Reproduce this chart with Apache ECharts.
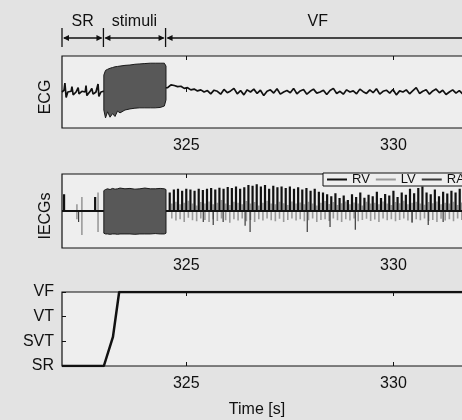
<!DOCTYPE html>
<html>
<head>
<meta charset="utf-8">
<script src="https://cdn.jsdelivr.net/npm/echarts@6/dist/echarts.min.js"></script>
<style>
html,body{margin:0;padding:0;background:#e3e3e3;}
#main{width:462px;height:420px;}
</style>
</head>
<body>
<div id="main"></div>
<script>
/*刻度与标签*/
var xTicks=[325,330];
var rhythmLabels=['SR','SVT','VT','VF'];
var phaseNames=['SR','stimuli','VF'];
var phaseBounds=[322,323,324.5,331.85];

/*ECG: 窦性段*/
var ecgSrTime=[322.00,322.05,322.07,322.10,322.14,322.22,322.24,322.27,322.34,322.39,322.41,322.48,322.56,322.58,322.60,322.68,322.72,322.75,322.82,322.87,322.89,322.94,323.00];
var ecgSrValue=[0.0,0.05,0.25,-0.15,0.0,0.02,0.15,-0.08,0.0,0.12,-0.05,0.02,0.0,0.18,-0.1,0.02,0.1,-0.06,0.0,0.22,-0.12,0.0,0.02];
/*ECG: 室颤段 (等间隔采样)*/
var ecgVfStart=324.55, ecgVfStep=0.08;
var ecgVfValue=[
	0.12,0.2,0.18,0.15,0.16,0.1,0.12,0.06,0.08,0.03,
	0.06,0.0,0.04,-0.05,0.05,0.02,-0.06,0.07,-0.02,0.03,
	0.1,-0.05,0.04,-0.08,0.06,0.0,0.08,-0.04,0.05,-0.1,
	0.02,0.06,-0.03,0.09,-0.06,0.0,0.04,-0.02,0.1,-0.05,
	0.03,0.07,-0.06,0.02,0.08,-0.03,0.0,0.05,-0.07,0.04,
	0.1,-0.04,0.02,-0.06,0.06,0.0,0.03,-0.05,0.08,0.01,
	-0.04,0.06,-0.02,0.09,-0.06,0.02,0.05,-0.03,0.07,-0.08,
	0.03,0.0,0.06,-0.05,0.04,0.12,-0.04,0.02,0.06,-0.06,
	0.03,0.08,-0.02,0.05,-0.07,0.0,0.06,-0.03,0.04,-0.05,
	0.07,0.01,-0.04,0.05,-0.02,0.06,-0.06,0.03,0.0,0.04];

/*刺激段包络*/
var stimTime=[323.01,323.05,323.10,323.16,323.22,323.28,323.34,323.40,323.52,323.64,323.76,323.88,324.00,324.13,324.25,324.37,324.47,324.51];
var ecgStimTop=[0.47,0.6,0.63,0.66,0.68,0.7,0.71,0.72,0.74,0.75,0.77,0.78,0.79,0.8,0.8,0.8,0.8,0.72];
var ecgStimBottom=[-0.5,-0.72,-0.55,-0.7,-0.6,-0.68,-0.53,-0.58,-0.5,-0.47,-0.45,-0.44,-0.44,-0.44,-0.44,-0.43,-0.39,-0.22];
var iecgStimTop=[0.55,0.58,0.6,0.58,0.61,0.59,0.6,0.62,0.6,0.61,0.59,0.6,0.62,0.6,0.6,0.61,0.6,0.58];
var iecgStimBottom=[-0.6,-0.62,-0.62,-0.63,-0.62,-0.62,-0.63,-0.62,-0.62,-0.62,-0.63,-0.62,-0.62,-0.62,-0.61,-0.62,-0.62,-0.6];

/*IECG: 窦性段尖峰*/
var rvSrTime=[322.05,322.80];
var rvSrPeak=[0.45,0.38];
var lvSrTime=[322.36,322.48,322.87];
var lvSrUp=[0.18,0.38,0.5];
var lvSrDown=[-0.22,-0.65,-0.57];
/*IECG: 室颤段尖峰*/
var iecgVfStart=324.6, iecgVfStep=0.1;
var rvPeak=[
	0.5,0.58,0.6,0.55,0.6,0.58,0.55,0.6,0.57,
	0.6,0.62,0.58,0.63,0.6,0.65,0.62,0.66,0.6,0.64,
	0.7,0.68,0.72,0.66,0.7,0.6,0.68,0.64,0.66,
	0.62,0.66,0.6,0.64,0.58,0.62,0.55,0.6,0.52,0.5,
	0.45,0.4,0.48,0.35,0.42,0.3,0.45,0.38,0.5,0.36,0.44,
	0.4,0.52,0.35,0.46,0.42,0.55,0.38,0.5,0.44,0.6,
	0.48,0.62,0.66,0.5,0.45,0.58,0.4,0.52,0.47,0.55,
	0.5,0.6,0.45,0.52,0.48,0.55,0.5,0.46,0.52,0.5];
var lvUp=[
	0.2,0.25,0.18,0.22,0.28,0.2,0.15,0.24,0.2,0.26,
	0.18,0.22,0.3,0.2,0.16,0.25,0.22,0.18,0.27,0.2,
	0.24,0.15,0.22,0.28,0.2,0.18,0.25,0.21,0.16,0.26,
	0.2,0.23,0.18,0.25,0.2,0.15,0.22,0.27,0.19,0.24,
	0.16,0.21,0.26,0.18,0.23,0.2,0.15,0.25,0.2,0.22,
	0.18,0.26,0.2,0.16,0.24,0.21,0.28,0.18,0.22,0.25,
	0.2,0.17,0.24,0.21,0.26,0.18,0.22,0.2,0.25,0.16,
	0.23,0.2,0.27,0.18,0.22,0.24,0.19,0.21,0.2];
var lvDown=[
	-0.2,-0.26,-0.22,-0.3,-0.18,-0.25,-0.28,-0.2,-0.24,-0.3,
	-0.22,-0.27,-0.2,-0.25,-0.32,-0.22,-0.26,-0.2,-0.28,-0.24,
	-0.3,-0.22,-0.26,-0.2,-0.25,-0.28,-0.21,-0.3,-0.24,-0.2,
	-0.26,-0.22,-0.28,-0.25,-0.2,-0.3,-0.24,-0.22,-0.27,-0.2,
	-0.25,-0.3,-0.22,-0.26,-0.2,-0.28,-0.24,-0.21,-0.27,-0.23,
	-0.3,-0.2,-0.25,-0.22,-0.28,-0.24,-0.2,-0.26,-0.3,-0.22,
	-0.25,-0.2,-0.27,-0.24,-0.3,-0.21,-0.26,-0.22,-0.28,-0.2,
	-0.24,-0.27,-0.22,-0.25,-0.2,-0.28,-0.23,-0.26,-0.22];
var raTime=[322.40,325.41,325.65,325.89,326.42,326.54,327.92,328.47,329.08,330.45,330.84,331.20];
var raValue=[-0.3,-0.3,-0.38,-0.3,-0.4,-0.57,-0.57,-0.43,-0.51,-0.32,-0.38,-0.3];

/*节律状态*/
var rhythmTime=[322,323.01,323.23,323.38,332.5];
var rhythmLevel=[0,0,1.18,3,3];

var FONT='"Liberation Sans", Arial, sans-serif';
var INK='#111';

function seqTimes(start,step,n){
	var t=[];
	for(var i=0;i<n;i++){t.push(+(start+i*step).toFixed(3));}
	return t;
}
function pairs(times,values){
	var d=[];
	for(var i=0;i<times.length;i++){d.push([times[i],values[i]]);}
	return d;
}
/*单向尖峰*/
function spikes(times,peaks){
	var d=[];
	for(var i=0;i<times.length;i++){d.push([times[i],0],[times[i],peaks[i]],[times[i],0]);}
	return d;
}
/*双向尖峰*/
function biSpikes(times,ups,downs){
	var d=[];
	for(var i=0;i<times.length;i++){d.push([times[i],0],[times[i],ups[i]],[times[i],downs[i]],[times[i],0]);}
	return d;
}

var ecgData=pairs(ecgSrTime,ecgSrValue).concat(pairs(seqTimes(ecgVfStart,ecgVfStep,ecgVfValue.length),ecgVfValue));
var vfT=seqTimes(iecgVfStart,iecgVfStep,rvPeak.length);
var lvT=seqTimes(iecgVfStart+0.05,iecgVfStep,lvUp.length);
var rvData=[[322,0]].concat(spikes(rvSrTime,rvSrPeak),spikes(vfT,rvPeak),[[332.5,0]]);
var lvData=[[322,0]].concat(biSpikes(lvSrTime,lvSrUp,lvSrDown),biSpikes(lvT,lvUp,lvDown),[[332.5,0]]);
var raData=[[322,0]].concat(spikes(raTime,raValue),[[332.5,0]]);

var grids=[
	{left:62,top:56,width:435,height:72},
	{left:62,top:174,width:435,height:74},
	{left:62,top:292,width:435,height:74}
];
for(var g=0;g<grids.length;g++){
	grids[g].show=true;
	grids[g].outerBoundsMode='none';
	grids[g].containLabel=false;
	grids[g].borderColor=INK;
	grids[g].borderWidth=1.2;
	grids[g].backgroundColor='#eeeeee';
}

var xAxes=[],yAxes=[];
for(var k=0;k<3;k++){
	xAxes.push({type:'value',gridIndex:k,min:322,max:332.5,position:'bottom',
		axisLine:{show:false},splitLine:{show:false},
		axisTick:{inside:true,length:4,customValues:xTicks,lineStyle:{color:INK}},
		axisLabel:{customValues:xTicks,margin:10,fontSize:16,fontFamily:FONT,color:INK}});
	xAxes.push({type:'value',gridIndex:k,min:322,max:332.5,position:'top',
		axisLine:{show:false},splitLine:{show:false},
		axisTick:{inside:true,length:4,customValues:xTicks,lineStyle:{color:INK}},
		axisLabel:{show:false}});
}
yAxes.push({type:'value',gridIndex:0,min:-1,max:1,show:false});
yAxes.push({type:'value',gridIndex:1,min:-1,max:1,show:false});
yAxes.push({type:'value',gridIndex:2,min:0,max:3,interval:1,
	axisLine:{show:false},splitLine:{show:false},
	axisTick:{inside:true,length:4,lineStyle:{color:INK}},
	axisLabel:{margin:8,fontSize:16,fontFamily:FONT,color:INK,formatter:function(v){return rhythmLabels[v];}}});

/*刺激段色块*/
function blockSeries(idx,top,bottom){
	return {
		type:'custom',xAxisIndex:idx*2,yAxisIndex:idx,data:[[323.5,0]],silent:true,z:4,
		renderItem:function(params,api){
			var pts=[];
			for(var i=0;i<stimTime.length;i++){pts.push(api.coord([stimTime[i],top[i]]));}
			for(var j=stimTime.length-1;j>=0;j--){pts.push(api.coord([stimTime[j],bottom[j]]));}
			return {type:'polygon',shape:{points:pts},style:{fill:'#585858',stroke:'#1a1a1a',lineWidth:1}};
		}
	};
}
function lineSeries(name,idx,data,color,width,z){
	return {name:name,type:'line',xAxisIndex:idx*2,yAxisIndex:idx,data:data,
		showSymbol:false,symbol:'none',z:z,lineStyle:{color:color,width:width},itemStyle:{color:color}};
}

var chart=echarts.init(document.getElementById('main'));
chart.setOption({
	animation:false,
	backgroundColor:'#e3e3e3',
	grid:grids,
	xAxis:xAxes,
	yAxis:yAxes,
	legend:{data:['RV','LV','RA'],left:323,top:173,width:200,icon:'rect',itemWidth:20,itemHeight:2,itemGap:6,
		padding:[0,4],borderColor:INK,borderWidth:1,backgroundColor:'#eeeeee',
		textStyle:{fontSize:13,fontFamily:FONT,color:INK}},
	series:[
		lineSeries('ECG',0,ecgData,INK,1.7,2),
		blockSeries(0,ecgStimTop,ecgStimBottom),
		lineSeries('LV',1,lvData,'#9a9a9a',1.6,2),
		lineSeries('RA',1,raData,'#3a3a3a',1.2,3),
		lineSeries('RV',1,rvData,INK,2.2,3),
		blockSeries(1,iecgStimTop,iecgStimBottom),
		lineSeries('Rhythm',2,pairs(rhythmTime,rhythmLevel),INK,2.5,3)
	]
});

/*顶部阶段标注*/
var gfx=[];
var arrowY=38;
var bx=[];
for(var b=0;b<phaseBounds.length;b++){bx.push(chart.convertToPixel({xAxisIndex:0},phaseBounds[b]));}
for(var p=0;p<phaseNames.length;p++){
	var x0=bx[p],x1=bx[p+1];
	gfx.push({type:'line',shape:{x1:x0,y1:28,x2:x0,y2:47},style:{stroke:INK,lineWidth:1.3}});
	gfx.push({type:'line',shape:{x1:x0+2,y1:arrowY,x2:x1-2,y2:arrowY},style:{stroke:INK,lineWidth:1.3}});
	gfx.push({type:'polygon',shape:{points:[[x0+1,arrowY],[x0+7,arrowY-3],[x0+7,arrowY+3]]},style:{fill:INK}});
	gfx.push({type:'polygon',shape:{points:[[x1-1,arrowY],[x1-7,arrowY-3],[x1-7,arrowY+3]]},style:{fill:INK}});
	gfx.push({type:'text',x:(x0+x1)/2,y:22,style:{text:phaseNames[p],font:'16px '+FONT,fill:INK,align:'center',verticalAlign:'middle'}});
}
gfx.push({type:'text',x:46,y:97,rotation:Math.PI/2,style:{text:'ECG',font:'16px '+FONT,fill:INK,align:'center',verticalAlign:'middle'}});
gfx.push({type:'text',x:46,y:216,rotation:Math.PI/2,style:{text:'IECGs',font:'16px '+FONT,fill:INK,align:'center',verticalAlign:'middle'}});
gfx.push({type:'text',x:257,y:410,style:{text:'Time [s]',font:'16px '+FONT,fill:INK,align:'center',verticalAlign:'middle'}});
chart.setOption({graphic:gfx});
</script>
</body>
</html>
